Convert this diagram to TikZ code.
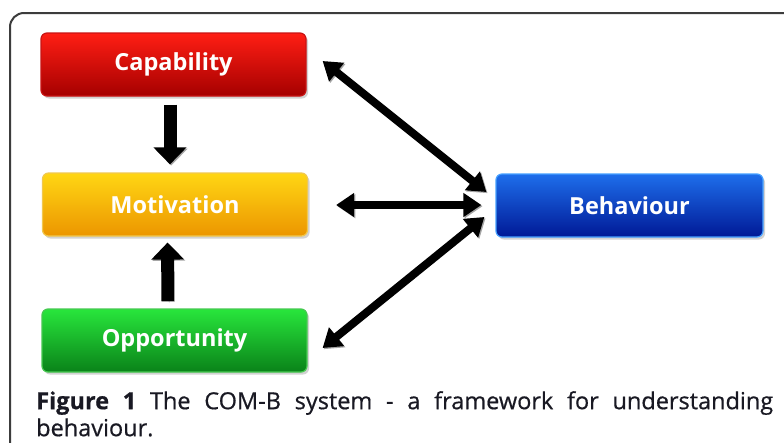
\documentclass[tikz,border=0pt]{standalone}
\usepackage{fontspec}
\setmainfont{Open Sans}
\usetikzlibrary{arrows.meta,shadows,calc}

% Box colours (top / middle / bottom of each gradient, plus rim)
\definecolor{capTop}{RGB}{255,30,20}
\definecolor{capMid}{RGB}{232,0,0}
\definecolor{capBot}{RGB}{165,0,0}
\definecolor{capRim}{RGB}{200,20,20}
\definecolor{motTop}{RGB}{255,214,20}
\definecolor{motMid}{RGB}{250,190,0}
\definecolor{motBot}{RGB}{236,150,0}
\definecolor{motRim}{RGB}{240,200,80}
\definecolor{oppTop}{RGB}{40,230,60}
\definecolor{oppMid}{RGB}{20,190,40}
\definecolor{oppBot}{RGB}{10,130,25}
\definecolor{oppRim}{RGB}{70,200,80}
\definecolor{behTop}{RGB}{30,110,235}
\definecolor{behMid}{RGB}{10,70,210}
\definecolor{behBot}{RGB}{0,25,150}
\definecolor{behRim}{RGB}{70,160,255}
\definecolor{frameCol}{RGB}{60,60,60}
\definecolor{capText}{RGB}{25,25,35}

\begin{document}
\begin{tikzpicture}[x=1pt,y=-1pt,
  stagebox/.style={rounded corners=6pt, minimum width=265pt, minimum height=63pt,
    line width=1.2pt, text=white, inner sep=0pt,
    font=\fontsize{23.5}{27}\selectfont\bfseries,
    drop shadow={shadow xshift=2pt, shadow yshift=-2.5pt, opacity=0.35}},
  arrowshade/.style={draw=black!35, transform canvas={shift={(1.2pt,-1.2pt)}}},
  thickarrow/.style={draw=black, line width=13pt,
    -{Triangle[width=32pt,length=17pt]}},
  linkarrow/.style={draw=black, line width=8pt,
    {Triangle[width=23pt,length=18pt]}-{Triangle[width=23pt,length=18pt]}},
]
\clip (0,0) rectangle (784,442);
\fill[white] (0,0) rectangle (784,442);

% outer frame running off the page to the right and bottom
\draw[frameCol, line width=2pt, rounded corners=14pt] (10,470) -- (10,13) -- (820,13);

% the four COM-B components
\node[stagebox, draw=capRim, top color=capTop, middle color=capMid, bottom color=capBot]
  (cap) at (173.5,64.5) {Capability};
\node[stagebox, draw=motRim, top color=motTop, middle color=motMid, bottom color=motBot]
  (mot) at (175,204.5) {Motivation};
\node[stagebox, draw=oppRim, top color=oppTop, middle color=oppMid, bottom color=oppBot]
  (opp) at (174.5,340.5) {Opportunity};
\node[stagebox, minimum width=267pt, draw=behRim, top color=behTop, middle color=behMid, bottom color=behBot]
  (beh) at (629.5,205.5) {Behaviour};

% vertical influences on motivation
\draw[thickarrow, preaction={arrowshade}]
  ($(cap.south)+(-3.5,8)$) -- ($(mot.north)+(-5,-8)$);
\draw[thickarrow, preaction={arrowshade}]
  ($(opp.north)+(-6.5,-7)$) -- ($(mot.south)+(-7.5,6)$);

% two-way links with behaviour
\draw[linkarrow, preaction={arrowshade}]
  ($(cap.east)+(16,-3.5)$) -- ($(beh.west)+(-9,-13.5)$);
\draw[linkarrow, preaction={arrowshade}]
  ($(mot.east)+(28,0.5)$) -- ($(beh.west)+(-14,-0.5)$);
\draw[linkarrow, preaction={arrowshade}]
  ($(opp.east)+(15,7.5)$) -- ($(beh.west)+(-11,11.5)$);

% caption
\node[anchor=north west, inner sep=0pt, text width=737pt, align=justify,
      text=capText, font=\fontsize{23.5}{27}\selectfont\addfontfeature{FakeBold=0.6}] (caption) at (36,391)
  {{\bfseries Figure 1} The COM-B system - a framework for understanding\linebreak behaviour.};
\end{tikzpicture}
\end{document}
